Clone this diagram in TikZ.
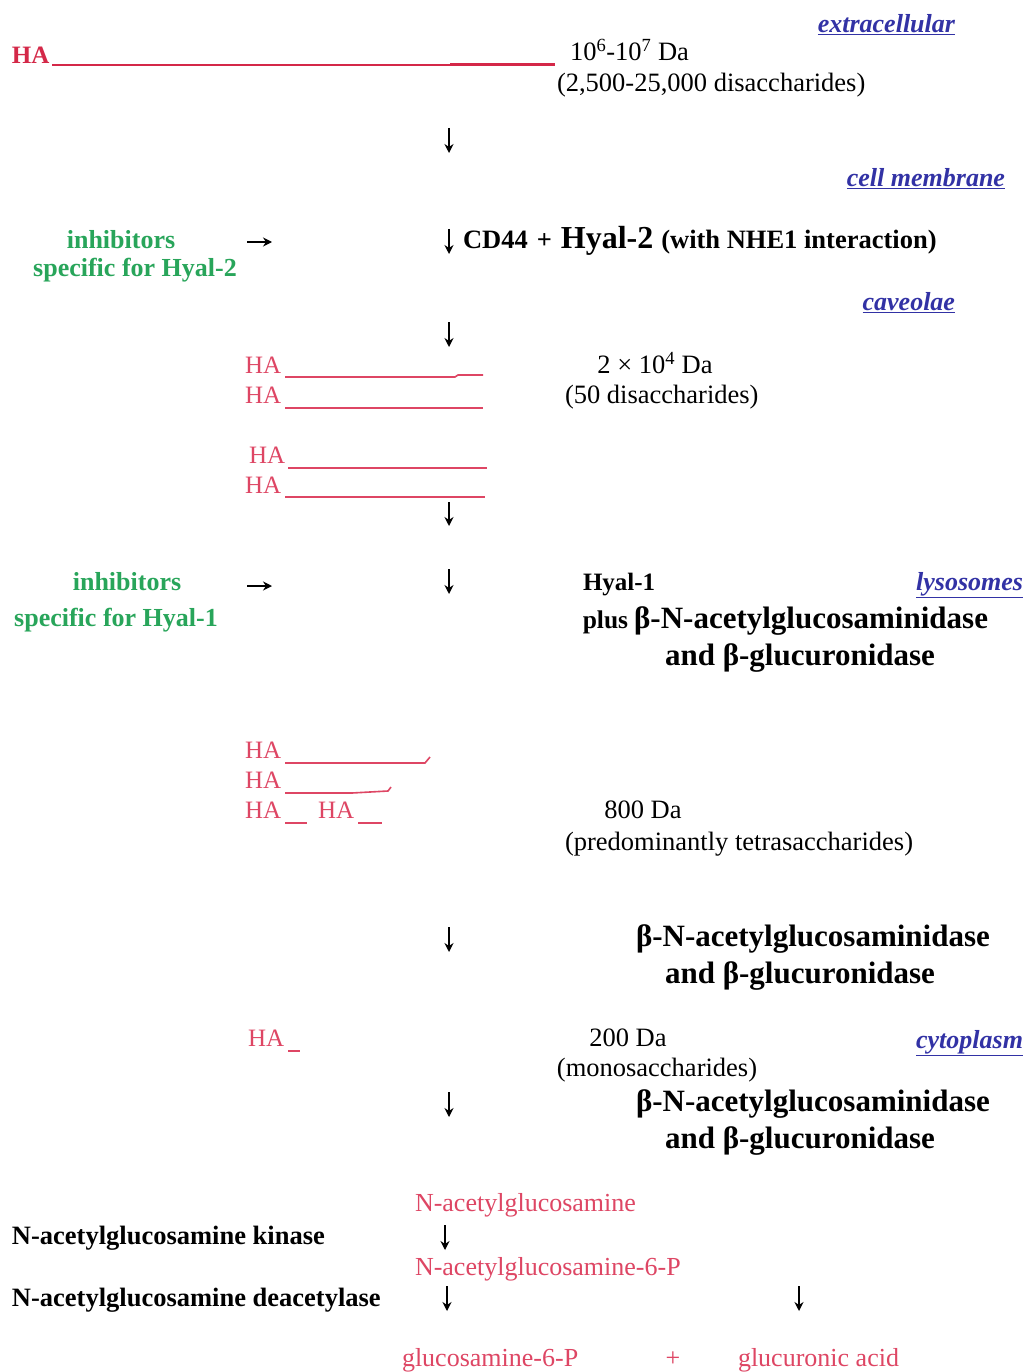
\documentclass[tikz,border=0pt]{standalone}
\usepackage{fontspec}
\setmainfont{Liberation Serif}
\usetikzlibrary{arrows.meta}
\definecolor{hared}{RGB}{212,40,72}
\definecolor{hapink}{RGB}{222,70,100}
\definecolor{inhgreen}{RGB}{40,165,90}
\definecolor{locblue}{RGB}{50,50,165}
\begin{document}
\begin{tikzpicture}[x=1pt,y=-1pt,
  every node/.style={inner sep=0pt, outer sep=0pt},
  mw/.style={anchor=mid west, yshift=-6pt},
  me/.style={anchor=mid east, yshift=-6pt},
  mc/.style={anchor=mid, yshift=-6pt},
  txt/.style={font=\fontsize{26.5}{30}\selectfont},
  bt/.style={font=\fontsize{26.5}{30}\selectfont\bfseries},
  big/.style={font=\fontsize{31}{36}\selectfont\bfseries},
  hatop/.style={font=\fontsize{25}{30}\selectfont\bfseries, text=hared},
  ha/.style={font=\fontsize{25}{30}\selectfont, text=hapink},
  prod/.style={font=\fontsize{26}{30}\selectfont, text=hapink},
  inh/.style={font=\fontsize{26}{30}\selectfont\bfseries, text=inhgreen},
  loc/.style={font=\fontsize{26}{30}\selectfont\bfseries\itshape, text=locblue},
  hline/.style={draw=hapink, line width=1.6pt},
  down/.style={-{Stealth[length=9pt,width=9pt]}, line width=1.6pt},
]
\useasboundingbox[fill=white] (0,0) rectangle (1028,1372);

% ---------- extracellular ----------
\node[loc, me] (ext) at (955,24) {\underline{extracellular}};
\node[hatop, mw] (ha0) at (12,55) {HA};
\coordinate (l0a) at (52,65); \coordinate (l0b) at (450,65); \coordinate (l0c) at (555,65);
\draw[draw=hared, line width=1.8pt] (l0a) -- (l0b);
\draw[draw=hared, line width=3pt] (l0b) -- (l0c);
\node[txt, mw] (mw0) at (570,52) {10\textsuperscript{6}-10\textsuperscript{7} Da};
\node[txt, mw] (ds0) at (557,83) {(2,500-25,000 disaccharides)};
\coordinate (a1s) at (449,128); \coordinate (a1e) at (449,153);
\draw[down] (a1s) -- (a1e);

% ---------- cell membrane ----------
\node[loc, me] (mem) at (1005,178) {\underline{cell membrane}};
\node[inh] (inh2a) at (121,240) {inhibitors};
\node[inh] (inh2b) at (135,270) {specific for Hyal-2};
\coordinate (r2s) at (247,242); \coordinate (r2e) at (272,242);
\draw[down, line width=1.3pt] (r2s) -- (r2e);
\coordinate (a2s) at (449,229); \coordinate (a2e) at (449,254);
\draw[down] (a2s) -- (a2e);
\node[bt, mw] (cd44) at (463,240) {CD44\hspace{9pt}+\hspace{9pt}{\fontsize{32}{36}\selectfont Hyal-2}\hspace{8pt}{\fontsize{26.5}{30}\selectfont (with NHE1 interaction)}};

% ---------- caveolae ----------
\node[loc, me] (cav) at (955,302) {\underline{caveolae}};
\coordinate (a3s) at (449,322); \coordinate (a3e) at (449,347);
\draw[down] (a3s) -- (a3e);

\node[ha, mw] (ha1) at (245,365) {HA};
\coordinate (l1a) at (285,377); \coordinate (l1b) at (455,377); \coordinate (l1c) at (458,375); \coordinate (l1d) at (483,375);
\draw[hline] (l1a) -- (l1b) -- (l1c) -- (l1d);
\node[ha, mw] (ha2) at (245,395) {HA};
\coordinate (l2a) at (285,408); \coordinate (l2b) at (483,408);
\draw[hline] (l2a) -- (l2b);
\node[ha, mw] (ha3) at (249,455) {HA};
\coordinate (l3a) at (288,468); \coordinate (l3b) at (487,468);
\draw[hline] (l3a) -- (l3b);
\node[ha, mw] (ha4) at (245,485) {HA};
\coordinate (l4a) at (285,497); \coordinate (l4b) at (485,497);
\draw[hline] (l4a) -- (l4b);

\node[txt, mc] (mw1) at (655,365) {2 × 10\textsuperscript{4} Da};
\node[txt, mw] (ds1) at (565,395) {(50 disaccharides)};
\coordinate (a4s) at (449,502); \coordinate (a4e) at (449,526);
\draw[down] (a4s) -- (a4e);

% ---------- lysosomes ----------
\node[inh] (inh1a) at (127,582) {inhibitors};
\node[inh] (inh1b) at (116,620) {specific for Hyal-1};
\coordinate (r1s) at (247,586); \coordinate (r1e) at (272,586);
\draw[down, line width=1.3pt] (r1s) -- (r1e);
\coordinate (a5s) at (449,569); \coordinate (a5e) at (449,594);
\draw[down] (a5s) -- (a5e);
\node[bt, mw] (hy1) at (583,582) {\fontsize{25}{30}\selectfont Hyal-1};
\node[loc, me] (lys) at (1023,582) {\underline{lysosomes}};
\node[big, me] (en1a) at (988,620) {{\fontsize{25.5}{30}\selectfont plus}\hspace{6pt}β-N-acetylglucosaminidase};
\node[big, mc] (en1b) at (800,657) {and β-glucuronidase};

\node[ha, mw] (ha5) at (245,750) {HA};
\coordinate (l5a) at (285,763); \coordinate (l5b) at (425,763); \coordinate (l5c) at (430,757);
\draw[hline] (l5a) -- (l5b) -- (l5c);
\node[ha, mw] (ha6) at (245,780) {HA};
\coordinate (l6a) at (285,793); \coordinate (l6b) at (352,793); \coordinate (l6c) at (388,791); \coordinate (l6d) at (391,787);
\draw[hline] (l6a) -- (l6b) -- (l6c) -- (l6d);
\node[ha, mw] (ha7) at (245,810) {HA};
\coordinate (l7a) at (285,823); \coordinate (l7b) at (307,823);
\draw[hline] (l7a) -- (l7b);
\node[ha, mw] (ha8) at (318,810) {HA};
\coordinate (l8a) at (358,823); \coordinate (l8b) at (382,823);
\draw[hline] (l8a) -- (l8b);
\node[txt, mc] (mw2) at (643,810) {800 Da};
\node[txt, mw] (ds2) at (565,842) {(predominantly tetrasaccharides)};

\coordinate (a6s) at (449,927); \coordinate (a6e) at (449,952);
\draw[down] (a6s) -- (a6e);
\node[big, mw] (en2a) at (636,938) {β-N-acetylglucosaminidase};
\node[big, mc] (en2b) at (800,975) {and β-glucuronidase};

% ---------- cytoplasm ----------
\node[ha, mw] (ha9) at (248,1038) {HA};
\coordinate (l9a) at (288,1051); \coordinate (l9b) at (300,1051);
\draw[hline] (l9a) -- (l9b);
\node[txt, mc] (mw3) at (628,1038) {200 Da};
\node[txt, mc] (ds3) at (657,1068) {(monosaccharides)};
\node[loc, me] (cyt) at (1023,1040) {\underline{cytoplasm}};
\coordinate (a7s) at (449,1092); \coordinate (a7e) at (449,1117);
\draw[down] (a7s) -- (a7e);
\node[big, mw] (en3a) at (636,1103) {β-N-acetylglucosaminidase};
\node[big, mc] (en3b) at (800,1140) {and β-glucuronidase};

\node[prod, mw] (p1) at (415,1203) {N-acetylglucosamine};
\node[bt, mw] (kin) at (12,1236) {N-acetylglucosamine kinase};
\coordinate (a8s) at (445,1225); \coordinate (a8e) at (445,1250);
\draw[down] (a8s) -- (a8e);
\node[prod, mw] (p2) at (415,1267) {N-acetylglucosamine-6-P};
\node[bt, mw] (deac) at (12,1298) {N-acetylglucosamine deacetylase};
\coordinate (a9s) at (447,1286); \coordinate (a9e) at (447,1311);
\draw[down] (a9s) -- (a9e);
\coordinate (a10s) at (799,1286); \coordinate (a10e) at (799,1311);
\draw[down] (a10s) -- (a10e);
\node[prod, mw] (p3) at (402,1358) {glucosamine-6-P};
\node[prod, mc] (plus) at (673,1358) {+};
\node[prod, mw] (p4) at (738,1358) {glucuronic acid};
\end{tikzpicture}
\end{document}
